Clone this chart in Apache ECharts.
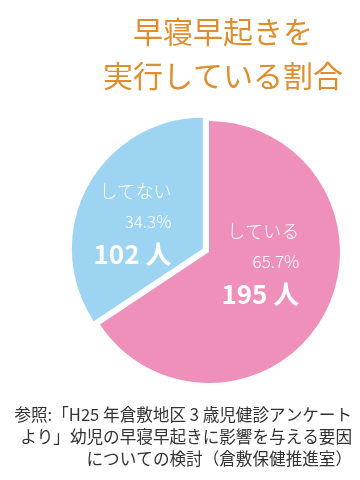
<!DOCTYPE html>
<html><head><meta charset="utf-8">
<style>html,body{margin:0;padding:0;background:#fff}#c{width:360px;height:480px}</style>
<script src="https://cdn.jsdelivr.net/npm/echarts@6/dist/echarts.min.js"></script>
</head><body><div id="c"></div>
<script>
const categories = ['している', 'してない'];
const counts = [195, 102];
const colors = ['#ef90bb', '#9dd4f2'];
const titleLines = ['早寝早起きを', '実行している割合'];
const noteLines = ['参照:「H25 年倉敷地区 3 歳児健診アンケート', 'より」幼児の早寝早起きに影響を与える要因', 'についての検討（倉敷保健推進室）'];
const FONT = '"Noto Sans CJK JP", "Noto Sans", sans-serif';
const chart = echarts.init(document.getElementById('c'));
const labelOffsets = [[-9, -21], [-10, 7]];
chart.setOption({
  animation: false,
  title: [{
    text: titleLines.join('\n'),
    left: 218, top: 5, textAlign: 'center',
    textStyle: {fontFamily: FONT, fontSize: 30, fontWeight: 400, color: '#df8e2f', lineHeight: 44}
  }, {
    text: noteLines.join('\n'),
    left: 347, top: 399, textAlign: 'right',
    textStyle: {fontFamily: FONT, fontSize: 16.6, fontWeight: 400, color: '#333', lineHeight: 22, align: 'right'}
  }],
  series: [{
    type: 'pie',
    center: [209, 252],
    radius: 131,
    startAngle: 90,
    clockwise: true,
    selectedMode: 'single',
    selectedOffset: 7,
    emphasis: {disabled: true},
    labelLine: {show: false},
    data: categories.map((c, i) => ({
      name: c, value: counts[i], selected: i === 1,
      itemStyle: {color: colors[i]},
      label: {offset: labelOffsets[i]},
      select: {label: {offset: labelOffsets[i]}}
    })),
    label: {
      show: true, position: 'inside', align: 'right',
      formatter: p => '{a|' + p.name + '}\n{b|' + p.percent.toFixed(1) + '%}\n{c|' + p.value + ' 人}',
      rich: {
        a: {fontFamily: FONT, fontSize: 18, fontWeight: 300, color: '#fff', lineHeight: 31, align: 'right'},
        b: {fontFamily: FONT, fontSize: 17, fontWeight: 300, color: '#fff', lineHeight: 30, align: 'right'},
        c: {fontFamily: FONT, fontSize: 26, fontWeight: 700, color: '#fff', lineHeight: 34, align: 'right'}
      }
    }
  }]
});
</script></body></html>
